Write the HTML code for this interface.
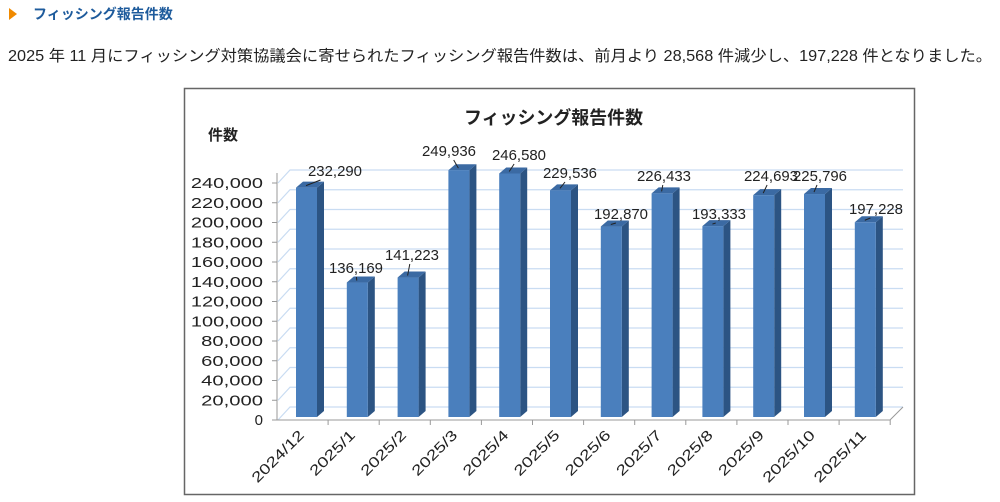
<!DOCTYPE html>
<html><head><meta charset="utf-8"><style>
body{margin:0;width:1000px;height:502px;background:#fff;overflow:hidden;font-family:"Liberation Sans","Noto Sans CJK JP",sans-serif}
</style></head><body>
<svg width="1000" height="502" xmlns="http://www.w3.org/2000/svg" style="position:absolute;left:0;top:0">
<polygon points="9,8 17,14 9,20" fill="#f08a00"/>
<text x="33" y="19" font-size="14" font-weight="bold" fill="#1e5b9c" font-family="Liberation Sans,Noto Sans CJK JP,sans-serif">フィッシング報告件数</text>
<text x="8" y="61" font-size="15.3" fill="#222" font-family="Liberation Sans,Noto Sans CJK JP,sans-serif" textLength="984" lengthAdjust="spacingAndGlyphs">2025 年 11 月にフィッシング対策協議会に寄せられたフィッシング報告件数は、前月より 28,568 件減少し、197,228 件となりました。</text>
<rect x="184.5" y="88.5" width="730" height="406" fill="#fff" stroke="#666" stroke-width="1.5"/>
<g font-family="Liberation Sans,Noto Sans CJK JP,sans-serif">
<text x="464" y="124" font-size="18" font-weight="bold" fill="#222" textLength="179" lengthAdjust="spacingAndGlyphs">フィッシング報告件数</text>
<text x="208" y="140" font-size="15" font-weight="bold" fill="#222">件数</text>
<g id="grid" stroke="#c9dcf2" stroke-width="1.2" fill="none"></g>
<g id="ax"></g>
<g id="bars"></g>
<g id="lab" font-size="15" fill="#222"></g>
</g>
</svg>
<script>
var ns="http://www.w3.org/2000/svg";
function el(p,t,a,txt){var e=document.createElementNS(ns,t);for(var k in a)e.setAttribute(k,a[k]);if(txt!=null)e.textContent=txt;document.getElementById(p).appendChild(e);}
var s=237/240000;
for(var i=0;i<=12;i++){var yf=420-i*19.75,yb=407-i*19.75;
 el("grid","polyline",{points:"278,"+yf+" 290,"+yb+" 903,"+yb});
 var t=(i*20000).toLocaleString("en-US");
 var a={x:263,y:yf+5,"font-size":15,"text-anchor":"end",fill:"#222"};
 if(t.length>1){a.textLength=t.length*10.3;a.lengthAdjust="spacingAndGlyphs";}
 el("ax","text",a,t);
 el("ax","line",{x1:272,y1:yf,x2:277,y2:yf,stroke:"#999"});}
el("ax","line",{x1:277,y1:173,x2:277,y2:420,stroke:"#999"});
el("ax","polyline",{points:"277,420 890,420 903,407",stroke:"#999",fill:"none"});
var v=[232290,136169,141223,249936,246580,229536,192870,226433,193333,224693,225796,197228];
var c=["2024/12","2025/1","2025/2","2025/3","2025/4","2025/5","2025/6","2025/7","2025/8","2025/9","2025/10","2025/11"];
var L=[[335,176],[356,273],[412,260],[449,156],[519,160],[570,178],[621,219],[664,181],[719,219],[771,181],[820,181],[876,214]];
for(var i=0;i<12;i++){var x=296+50.8*i,yt=417-v[i]*s,w=21,d=7;
 el("ax","line",{x1:277+51.1*(i+1),y1:420,x2:277+51.1*(i+1),y2:425,stroke:"#999"});
 el("bars","polygon",{points:(x+w)+","+yt+" "+(x+w+d)+","+(yt-6)+" "+(x+w+d)+","+(411)+" "+(x+w)+",417",fill:"#2c5483"});
 el("bars","polygon",{points:x+","+yt+" "+(x+d)+","+(yt-6)+" "+(x+w+d)+","+(yt-6)+" "+(x+w)+","+yt,fill:"#3b6aa3"});
 el("bars","rect",{x:x,y:yt,width:w,height:417-yt,fill:"#4a7fbd"});
 el("lab","text",{x:L[i][0],y:L[i][1],"text-anchor":"middle",textLength:54,lengthAdjust:"spacingAndGlyphs"},v[i].toLocaleString("en-US"));
 var lx=Math.min(Math.max(L[i][0],x+4),x+16);
 el("lab","line",{x1:(L[i][0]+x+10)/2,y1:L[i][1]+4,x2:x+10,y2:yt-2,stroke:"#222"});
 var cx=305+51.1*i;
 el("lab","text",{x:cx,y:436,"text-anchor":"end",transform:"rotate(-45 "+cx+" 436)","font-size":14.5,textLength:c[i].length*9.6,lengthAdjust:"spacingAndGlyphs"},c[i]);}
</script>
</body></html>
